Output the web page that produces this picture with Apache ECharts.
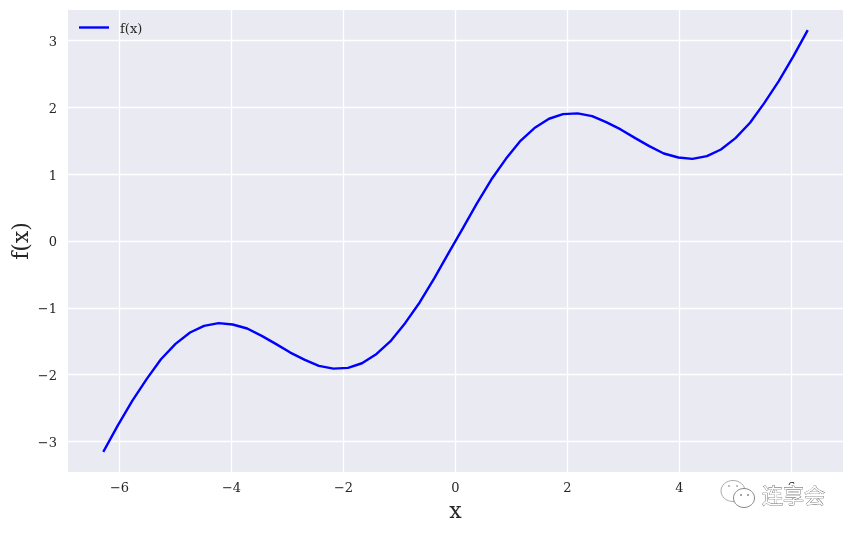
<!DOCTYPE html>
<html>
<head>
<meta charset="utf-8">
<title>f(x)</title>
<script src="https://cdn.jsdelivr.net/npm/echarts@6/dist/echarts.min.js"></script>
<style>
html, body { margin: 0; padding: 0; background: #fff; }
#main { width: 852px; height: 533px; }
</style>
</head>
<body>
<div id="main"></div>
<script>
// values
var xValues = [-6.28, -6.03, -5.77, -5.51, -5.26, -5.00, -4.74, -4.49, -4.23, -3.98,
    -3.72, -3.46, -3.21, -2.95, -2.69, -2.44, -2.18, -1.92, -1.67, -1.41,
    -1.15, -0.90, -0.64, -0.38, -0.13, 0.13, 0.38, 0.64, 0.90, 1.15,
    1.41, 1.67, 1.92, 2.18, 2.44, 2.69, 2.95, 3.21, 3.46, 3.72,
    3.98, 4.23, 4.49, 4.74, 5.00, 5.26, 5.51, 5.77, 6.03, 6.28];
var fValues = [-3.14, -2.76, -2.39, -2.06, -1.77, -1.54, -1.37, -1.27, -1.23, -1.25,
    -1.31, -1.42, -1.54, -1.67, -1.78, -1.87, -1.91, -1.90, -1.83, -1.69,
    -1.49, -1.23, -0.92, -0.56, -0.19, 0.19, 0.56, 0.92, 1.23, 1.49,
    1.69, 1.83, 1.90, 1.91, 1.87, 1.78, 1.67, 1.54, 1.42, 1.31,
    1.25, 1.23, 1.27, 1.37, 1.54, 1.77, 2.06, 2.39, 2.76, 3.14];
var xTicks = [-6, -4, -2, 0, 2, 4, 6];
var yTicks = [-3, -2, -1, 0, 1, 2, 3];

var serif = '"DejaVu Serif"';
var chart = echarts.init(document.getElementById('main'));

function minusSign(v) {
    return String(v).replace('-', '\u2212');
}

var points = [];
for (var i = 0; i < xValues.length; i++) {
    points.push([xValues[i], fValues[i]]);
}

var option = {
    animation: false,
    backgroundColor: '#fff',
    grid: {
        left: 68, right: 9, top: 10, bottom: 61,
        outerBoundsMode: 'none',
        show: true, backgroundColor: '#eaeaf2', borderWidth: 0
    },
    legend: {
        left: 74, top: 18,
        icon: 'rect',
        itemWidth: 30, itemHeight: 2.4,
        data: ['f(x)'],
        formatter: '{a|{name}}',
        textStyle: {
            rich: { a: { fontFamily: serif, fontSize: 13, color: '#262626', padding: [4, 0, 0, 6] } }
        }
    },
    xAxis: {
        type: 'value',
        min: -6.92, max: 6.92,
        name: 'x', nameLocation: 'middle', nameGap: 29, nameMoveOverlap: false,
        nameTextStyle: { fontFamily: serif, fontSize: 22, color: '#262626' },
        axisLine: { show: false },
        axisTick: { show: false, customValues: xTicks },
        axisLabel: {
            customValues: xTicks, formatter: minusSign, margin: 10,
            fontFamily: serif, fontSize: 13, color: '#262626'
        },
        splitLine: { show: true, lineStyle: { color: '#fff', width: 1.3 } }
    },
    yAxis: {
        type: 'value',
        min: -3.458, max: 3.458,
        name: 'f(x)', nameLocation: 'middle', nameGap: 35, nameMoveOverlap: false,
        nameTextStyle: { fontFamily: serif, fontSize: 22, color: '#262626' },
        axisLine: { show: false },
        axisTick: { show: false, customValues: yTicks },
        axisLabel: {
            customValues: yTicks, margin: 11,
            formatter: function (v) { return '{a|' + minusSign(v) + '}'; },
            rich: { a: { fontFamily: serif, fontSize: 13, color: '#262626', padding: [4, 0, 0, 0] } }
        },
        splitLine: { show: true, lineStyle: { color: '#fff', width: 1.3 } }
    },
    series: [{
        name: 'f(x)',
        type: 'line',
        data: points,
        symbol: 'none',
        showSymbol: false,
        lineStyle: { color: '#0000ff', width: 2.4, cap: 'square' },
        itemStyle: { color: '#0000ff' }
    }],
    // watermark, sits over the "6" tick label like in the reference
    graphic: [
        { type: 'rect', z: 100, shape: { x: 715, y: 485, width: 115, height: 26 }, style: { fill: '#fff' } },
        { type: 'ellipse', z: 101, shape: { cx: 733, cy: 491, rx: 12, ry: 10.5 }, style: { fill: '#fff', stroke: '#aaa', lineWidth: 1 } },
        { type: 'ellipse', z: 102, shape: { cx: 744, cy: 498, rx: 10.5, ry: 9.5 }, style: { fill: '#fff', stroke: '#888', lineWidth: 1 } },
        { type: 'circle', z: 103, shape: { cx: 729, cy: 486, r: 1 }, style: { fill: '#aaa' } },
        { type: 'circle', z: 103, shape: { cx: 737, cy: 486, r: 1 }, style: { fill: '#aaa' } },
        { type: 'circle', z: 103, shape: { cx: 741, cy: 495, r: 1 }, style: { fill: '#888' } },
        { type: 'circle', z: 103, shape: { cx: 748, cy: 495, r: 1 }, style: { fill: '#888' } },
        { type: 'text', z: 103, x: 762, y: 485, style: {
            text: '连享会', fontFamily: '"Noto Sans CJK SC"', fontSize: 21,
            fill: '#fff', stroke: '#555', lineWidth: 0.7
        } }
    ]
};

chart.setOption(option);
</script>
</body>
</html>
